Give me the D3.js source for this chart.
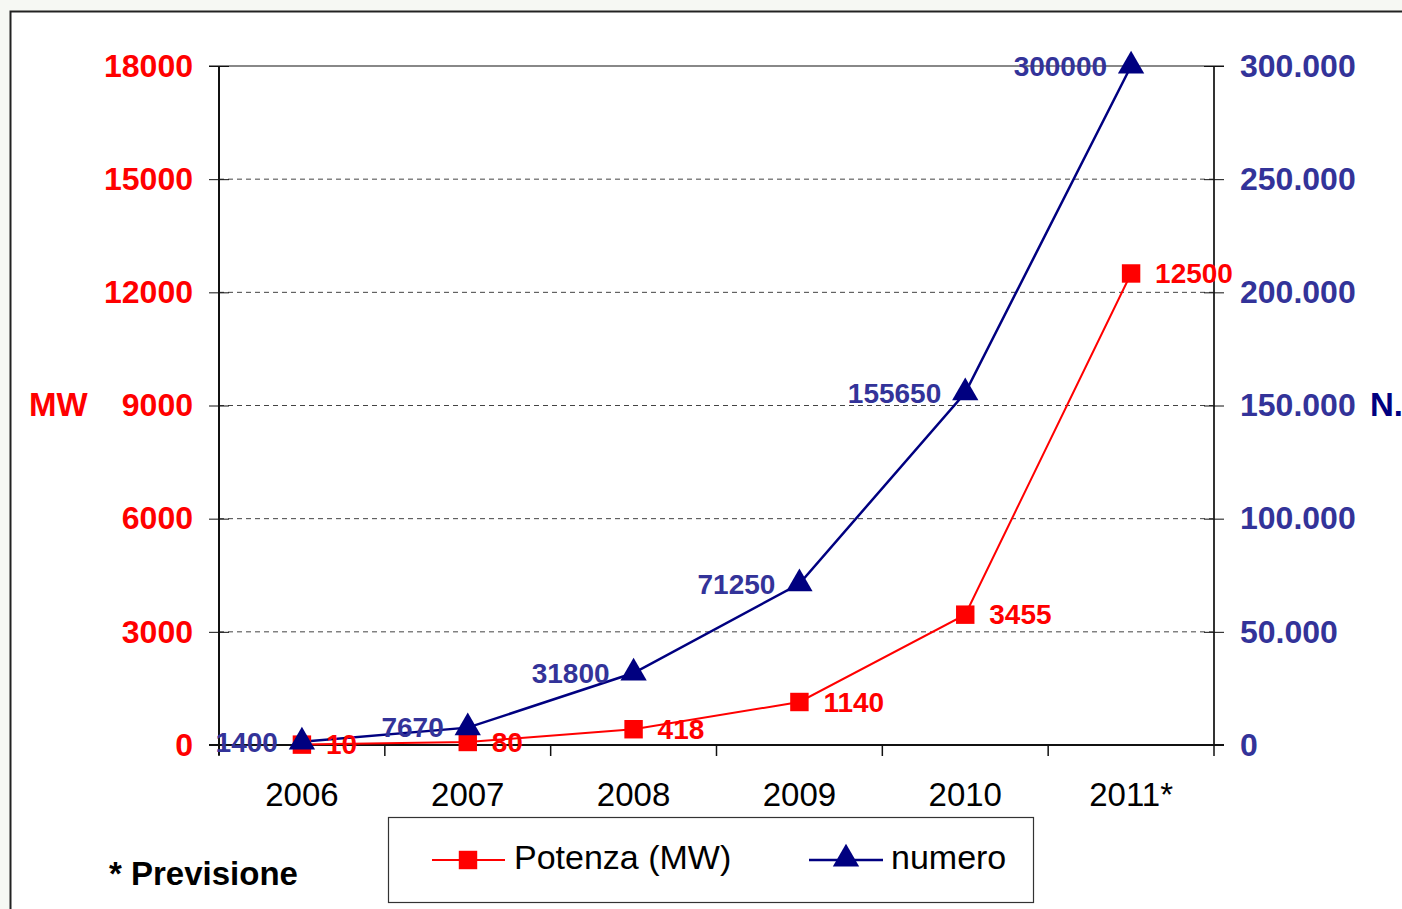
<!DOCTYPE html>
<html>
<head>
<meta charset="utf-8">
<script src="https://cdn.jsdelivr.net/npm/d3@7"></script>
<style>
  body { margin: 0; background: #f6f8f3; }
  svg { display: block; font-family: Arial, "Liberation Sans", sans-serif; }
</style>
</head>
<body>
<svg id="chart"></svg>
<script>
const WIDTH = 1402;
const HEIGHT = 909;

const years = ["2006", "2007", "2008", "2009", "2010", "2011*"];
const potenza = [10, 80, 418, 1140, 3455, 12500];
const numero = [1400, 7670, 31800, 71250, 155650, 300000];
const leftTicks = [0, 3000, 6000, 9000, 12000, 15000, 18000];
const rightTicks = [0, 50000, 100000, 150000, 200000, 250000, 300000];
const rightTickLabels = ["0", "50.000", "100.000", "150.000", "200.000", "250.000", "300.000"];

const RED = "#ff0000";
const NAVY = "#000080";
const BLUE_TXT = "#333399";

window.onload = function(){
    makeChart();
};

function makeChart(){
    let svg = d3.select('#chart')
        .attr('width', WIDTH)
        .attr('height', HEIGHT);

    // outer frame
    svg.append('rect')
        .attr('x', 10.5).attr('y', 11.5)
        .attr('width', 1420).attr('height', 920)
        .attr('fill', 'white')
        .attr('stroke', '#222').attr('stroke-width', 2);

    const m = {left: 219, right: 1214, top: 66, bottom: 745};

    const x = d3.scaleBand().domain(years).range([m.left, m.right]);
    const yL = d3.scaleLinear().domain([0, 18000]).range([m.bottom, m.top]);
    const yR = d3.scaleLinear().domain([0, 300000]).range([m.bottom, m.top]);

    // gridlines
    svg.append('g').selectAll('line')
        .data(leftTicks.filter(d => d > 0 && d < 18000))
        .enter().append('line')
        .attr('x1', m.left).attr('x2', m.right)
        .attr('y1', d => yL(d)).attr('y2', d => yL(d))
        .attr('stroke', '#444').attr('stroke-width', 1)
        .attr('stroke-dasharray', '5,4');

    // top border line of plot
    svg.append('line')
        .attr('x1', m.left - 10).attr('x2', m.right + 10)
        .attr('y1', m.top).attr('y2', m.top)
        .attr('stroke', '#888').attr('stroke-width', 2);

    // left axis
    const leftAxis = svg.append('g')
        .attr('transform', `translate(${m.left},0)`)
        .call(d3.axisLeft(yL).tickValues(leftTicks).tickFormat(d3.format('d')).tickSize(10));
    leftAxis.select('.domain').attr('stroke', '#111').attr('stroke-width', 2)
        .attr('d', `M0,${m.top}V${m.bottom + 10}`);
    leftAxis.selectAll('.tick line').attr('x2', -10).attr('x1', 10).attr('stroke', '#111');
    leftAxis.selectAll('.tick text')
        .attr('x', -26)
        .attr('fill', RED)
        .style('font-size', '32px').style('font-weight', 'bold');

    // right axis
    const rightAxis = svg.append('g')
        .attr('transform', `translate(${m.right},0)`)
        .call(d3.axisRight(yR).tickValues(rightTicks)
            .tickFormat((d, i) => rightTickLabels[i]).tickSize(10));
    rightAxis.select('.domain').attr('stroke', '#333').attr('stroke-width', 2)
        .attr('d', `M0,${m.top}V${m.bottom}`);
    rightAxis.selectAll('.tick line').attr('x1', -10).attr('x2', 10).attr('stroke', '#111');
    rightAxis.selectAll('.tick text')
        .attr('x', 26)
        .attr('fill', BLUE_TXT)
        .style('font-size', '32px').style('font-weight', 'bold');

    // x axis
    svg.append('line')
        .attr('x1', m.left - 10).attr('x2', m.right + 10)
        .attr('y1', m.bottom).attr('y2', m.bottom)
        .attr('stroke', '#111').attr('stroke-width', 2);
    const bounds = years.map(d => x(d)).concat([m.right]);
    svg.append('g').selectAll('line')
        .data(bounds).enter().append('line')
        .attr('x1', d => d).attr('x2', d => d)
        .attr('y1', m.bottom).attr('y2', m.bottom + 11)
        .attr('stroke', '#111').attr('stroke-width', 1.5);
    svg.append('g').selectAll('text')
        .data(years).enter().append('text')
        .attr('x', d => x(d) + x.bandwidth() / 2)
        .attr('y', 806)
        .attr('text-anchor', 'middle')
        .attr('fill', '#000')
        .style('font-size', '33px')
        .text(d => d);

    // axis titles
    svg.append('text').attr('x', 29).attr('y', 416)
        .attr('fill', RED).style('font-size', '33px').style('font-weight', 'bold').text('MW');
    svg.append('text').attr('x', 1370).attr('y', 416)
        .attr('fill', NAVY).style('font-size', '33px').style('font-weight', 'bold').text('N.');

    const cx = d => x(d) + x.bandwidth() / 2;

    // lines
    const lineP = d3.line().x((d, i) => cx(years[i])).y(d => yL(d));
    const lineN = d3.line().x((d, i) => cx(years[i])).y(d => yR(d));

    svg.append('path').datum(potenza)
        .attr('d', lineP).attr('fill', 'none')
        .attr('stroke', RED).attr('stroke-width', 2);
    svg.append('path').datum(numero)
        .attr('d', lineN).attr('fill', 'none')
        .attr('stroke', NAVY).attr('stroke-width', 2.5);

    // markers
    const sq = d3.symbol().type(d3.symbolSquare).size(340);
    const tri = d3.symbol().type(d3.symbolTriangle).size(300);

    svg.append('g').selectAll('path')
        .data(potenza).enter().append('path')
        .attr('d', sq)
        .attr('transform', (d, i) => `translate(${cx(years[i])},${yL(d)})`)
        .attr('fill', RED);
    svg.append('g').selectAll('path')
        .data(numero).enter().append('path')
        .attr('d', tri)
        .attr('transform', (d, i) => `translate(${cx(years[i])},${yR(d)})`)
        .attr('fill', NAVY);

    // data labels
    svg.append('g').selectAll('text')
        .data(numero).enter().append('text')
        .attr('x', (d, i) => cx(years[i]) - 24)
        .attr('y', d => yR(d))
        .attr('dy', '0.35em')
        .attr('text-anchor', 'end')
        .attr('fill', BLUE_TXT)
        .style('font-size', '28px').style('font-weight', 'bold')
        .text(d => d);
    svg.append('g').selectAll('text')
        .data(potenza).enter().append('text')
        .attr('x', (d, i) => cx(years[i]) + 24)
        .attr('y', d => yL(d))
        .attr('dy', '0.35em')
        .attr('fill', RED)
        .style('font-size', '28px').style('font-weight', 'bold')
        .text(d => d);

    // legend
    const lg = svg.append('g');
    lg.append('rect')
        .attr('x', 388.5).attr('y', 817.5)
        .attr('width', 645).attr('height', 85)
        .attr('fill', 'white').attr('stroke', '#333').attr('stroke-width', 1.2);
    lg.append('line').attr('x1', 432).attr('x2', 505).attr('y1', 860).attr('y2', 860)
        .attr('stroke', RED).attr('stroke-width', 2);
    lg.append('path').attr('d', sq).attr('transform', 'translate(468,860)').attr('fill', RED);
    lg.append('text').attr('x', 514).attr('y', 869)
        .style('font-size', '34px').attr('fill', '#000').text('Potenza (MW)');
    lg.append('line').attr('x1', 809).attr('x2', 883).attr('y1', 860).attr('y2', 860)
        .attr('stroke', NAVY).attr('stroke-width', 2.5);
    lg.append('path').attr('d', tri).attr('transform', 'translate(846,859)').attr('fill', NAVY);
    lg.append('text').attr('x', 891).attr('y', 869)
        .style('font-size', '34px').attr('fill', '#000').text('numero');

    svg.append('text').attr('x', 109).attr('y', 885)
        .style('font-size', '33px').style('font-weight', 'bold').attr('fill', '#000')
        .text('* Previsione');
}
</script>
</body>
</html>
